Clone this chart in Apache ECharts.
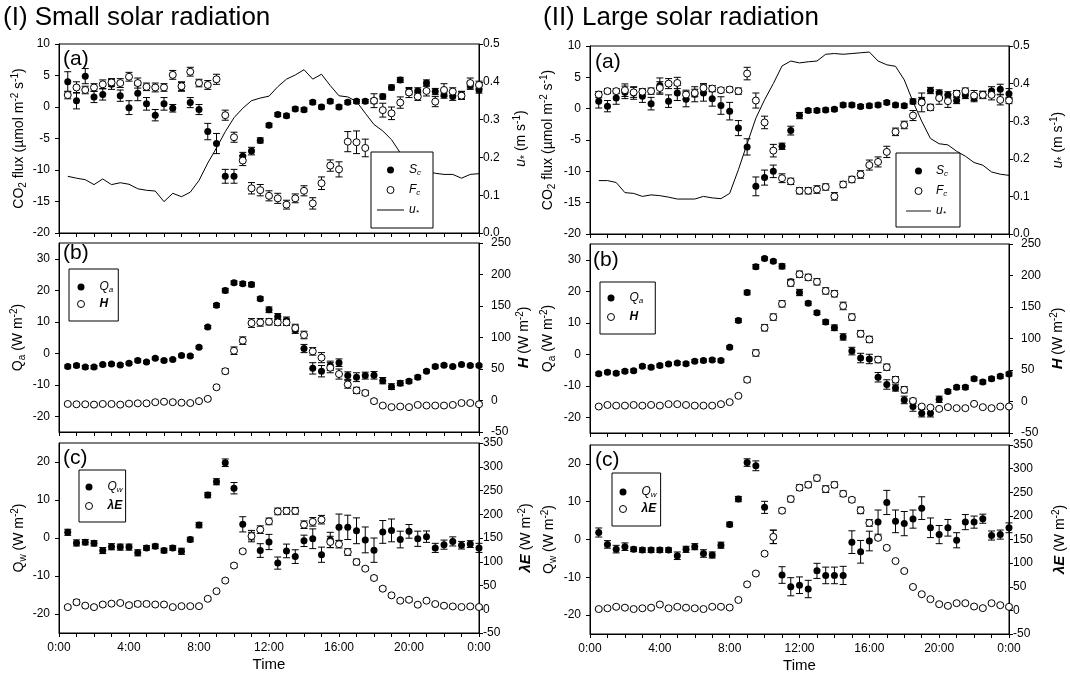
<!DOCTYPE html>
<html><head><meta charset="utf-8">
<script src="https://cdn.jsdelivr.net/npm/echarts@6/dist/echarts.min.js"></script>
<style>html,body{margin:0;padding:0;background:#fff}#c{width:1070px;height:677px}</style>
</head><body><div id="c"></div><script>
// ---- data (half-hourly, 0:30 ... 24:00) ----
const HOURS = [0.5,1,1.5,2,2.5,3,3.5,4,4.5,5,5.5,6,6.5,7,7.5,8,8.5,9,9.5,10,10.5,11,11.5,12,12.5,13,13.5,14,14.5,15,15.5,16,16.5,17,17.5,18,18.5,19,19.5,20,20.5,21,21.5,22,22.5,23,23.5,24];
const TIME_TICKS = ['0:00','4:00','8:00','12:00','16:00','20:00','0:00'];

// (I) small solar radiation
const L_SC = [4.0,1.0,4.9,1.6,2.0,3.6,1.8,-0.1, 2.2,0.5,-1.3,0.5,-0.2,3.2,0.7,-0.4, -3.9,-5.8,-11.0,-11.0,-7.8,-7.0,-5.3,-2.9, -1.2,-1.4,-0.3,-0.45,0.75,0.0,0.9,0.0, 0.75,0.9,0.9,0.95,1.65,3.1,4.3,2.45, 2.55,3.8,2.45,1.9,1.65,1.9,3.4,2.7];
const L_SC_ERR = [1.6,1.3,1.2,0.9,0.9,0.8,0.9,1.1, 1.2,1.0,0.9,1.0,0.6,0.7,0.8,0.8, 1.3,1.6,1.1,1.1,0.6,0.6,0.4,0.3, 0.3,0.3,0.3,0.3,0.3,0.3,0.3,0.3, 0.3,0.3,0.3,0.4,0.4,0.4,0.4,0.5, 0.5,0.5,0.5,0.5,0.6,0.6,0.6,0.5];
const L_FC = [1.9,3.1,2.7,3.1,3.6,3.9,3.8,4.8, 3.8,3.2,3.1,3.1,5.1,3.3,5.6,3.8, 3.5,4.4,-1.3,-4.8,-8.5,-12.9,-13.2,-14.1, -14.5,-15.5,-14.5,-13.3,-15.3,-12.1,-9.3,-9.9, -5.5,-5.6,-6.5,1.0,-0.5,-1.0,0.7,2.3, 1.65,2.55,0.85,2.7,2.45,1.8,3.8,3.5];
const L_FC_ERR = [0.6,0.9,0.6,0.6,0.7,0.6,0.7,0.7, 0.8,0.6,0.7,0.6,0.7,0.7,0.7,0.6, 0.7,0.8,0.8,0.8,0.8,0.9,0.9,0.8, 0.8,0.7,0.7,0.8,0.9,1.0,0.9,1.2, 1.6,1.8,1.4,1.1,1.1,1.0,0.9,0.8, 0.6,0.8,0.8,1.0,0.6,0.6,0.8,0.6];
const L_US = [0.150,0.145,0.141,0.128,0.143,0.128,0.133,0.129, 0.117,0.113,0.111,0.083,0.105,0.096,0.108,0.139, 0.185,0.225,0.268,0.305,0.330,0.350,0.357,0.362, 0.387,0.407,0.418,0.432,0.407,0.420,0.390,0.363, 0.360,0.348,0.317,0.287,0.270,0.247,0.212,0.190, 0.172,0.163,0.158,0.155,0.155,0.145,0.155,0.157];
const L_QA = [-4.2,-3.9,-4.4,-4.4,-3.6,-3.4,-3.7,-3.2, -2.3,-2.8,-1.6,-2.3,-2.0,-0.7,-0.9,1.9, 8.3,15.2,19.9,22.4,22.1,21.8,17.3,13.8, 11.7,10.4,7.5,1.5,-4.8,-5.7,-4.0,-3.0, -7.1,-7.6,-7.1,-7.0,-8.7,-10.6,-9.5,-8.9, -7.6,-5.7,-4.2,-3.8,-4.2,-3.6,-3.9,-3.9];
const L_QA_ERR = [0.5,0.5,0.5,0.5,0.4,0.4,0.4,0.4, 0.5,0.4,0.4,0.4,0.4,0.4,0.4,0.4, 0.5,0.6,0.7,0.6,0.6,0.7,0.6,0.9, 0.9,1.1,1.2,1.3,1.8,1.8,1.5,1.2, 1.2,1.4,1.1,1.2,1.0,0.9,0.8,0.6, 0.6,0.5,0.5,0.4,0.4,0.4,0.4,0.4];
const L_H = [-5.5,-6,-6,-6.5,-5.5,-5.5,-6.5,-5, -4.5,-4.5,-2.7,-2,-2.7,-3.5,-4,-1, 2.6,21,46.5,79,95,123,124,125, 124,124,115,104,78,68,52,42, 25.5,16,12,-1,-8,-10.5,-9.5,-10.5, -7,-8,-8,-8,-7,-4,-4,-6];
const L_H_ERR = [2,2,2,2,2,2,2,2, 2,2,2,2,2,2,2,2, 2,3,4,6,6,7,6,5, 5,5,6,6,6,8,8,8, 6,5,4,3,2,2,2,2, 2,2,2,2,2,2,2,2];
const L_QW = [1.5,-1.3,-1.1,-1.4,-3.3,-2.3,-2.4,-2.4, -3.9,-2.6,-2.2,-3.3,-2.6,-3.5,-0.4,3.4, 11.3,14.8,19.8,13.1,3.6,0.5,-3.3,-1.05, -6.6,-3.4,-4.9,-0.75,-0.2,-4.4,-0.5,2.8, 2.8,1.9,-0.5,-3.2,1.6,2.0,-0.4,1.75, -0.2,0.35,-2.6,-1.75,-0.9,-1.9,-1.6,-2.6];
const L_QW_ERR = [0.8,0.8,0.7,0.7,0.8,0.8,0.8,0.8, 0.8,0.6,0.6,0.6,0.6,0.8,0.6,0.7, 0.7,0.8,1.0,1.5,2.0,1.5,1.8,2.0, 1.6,1.8,1.8,1.5,2.6,2.0,2.0,3.5, 3.2,3.4,3.4,3.2,3.0,3.0,2.2,1.8, 2.0,1.5,1.2,1.2,1.2,1.0,0.9,1.2];
const L_LE = [4.5,14.8,7.6,4.5,10,11.8,13.2,8.6, 11.2,11.2,10,10,4.5,6.5,6.5,6.5, 22,38,60.4,92,122,154,167.6,185, 206,207,207,178,184,188.6,141.6,137, 120.5,99.5,85.4,65.8,43.3,29.3,18,20, 9.6,18,11,7.5,6,4.7,6,4.7];
const L_LE_ERR = [3,5,3,3,4,4,3,4, 5,4,3,3,3,3,3,3, 3,3,3,4,4,8,8,7, 7,7,7,8,9,9,12,8, 7,6,4,4,4,4,3,4, 3,3,3,3,3,3,3,3];

// (II) large solar radiation
const R_SC = [1.2,0.4,1.7,2.6,2.5,2.0,0.8,3.7, 1.2,2.5,1.5,2.3,2.5,1.6,0.5,-0.4, -3.1,-6.1,-12.4,-11.0,-10.0,-6.0,-3.5,-1.1, -0.3,-0.3,-0.2,-0.1,0.6,0.6,0.35,0.45, 0.6,1.0,0.57,0.45,1.16,1.3,2.9,2.5, 2.2,1.3,2.1,1.7,2.2,2.8,3.1,2.4];
const R_SC_ERR = [1.1,0.9,1.0,1.0,1.0,1.0,1.0,1.2, 1.0,1.2,1.2,1.2,1.3,1.2,1.4,1.4, 1.2,1.3,1.5,1.2,1.0,0.5,0.7,0.5, 0.3,0.3,0.3,0.3,0.3,0.3,0.3,0.3, 0.3,0.3,0.3,0.3,0.4,0.5,0.5,0.5, 0.5,0.5,0.5,0.6,0.6,0.7,0.8,0.8];
const R_FC = [2.25,2.8,2.8,2.95,2.6,2.7,2.8,3.3, 4.0,4.1,2.25,2.5,3.3,3.2,2.95,3.05, 2.8,5.6,1.3,-2.2,-6.7,-11.1,-11.6,-13.1, -13.1,-12.9,-12.5,-14.0,-12.1,-11.3,-10.5,-9.0, -8.5,-6.9,-3.7,-2.6,-1.1,1.0,0.2,1.7, 1.2,2.4,2.8,2.1,2.2,2.2,1.4,1.3];
const R_FC_ERR = [0.5,0.4,0.4,1.0,0.8,0.5,0.5,1.0, 0.8,0.9,0.7,0.6,0.7,0.5,0.4,0.4, 0.5,1.0,1.2,1.0,1.0,0.7,0.5,0.5, 0.5,0.6,0.5,0.6,0.5,0.5,0.6,0.8, 0.8,0.9,0.6,0.6,0.8,1.5,0.5,1.0, 1.0,0.5,0.5,0.8,0.5,0.8,0.8,0.5];
const R_US = [0.142,0.142,0.137,0.110,0.108,0.100,0.104,0.102, 0.098,0.093,0.093,0.093,0.100,0.096,0.094,0.108, 0.171,0.240,0.308,0.357,0.400,0.447,0.460,0.455, 0.458,0.460,0.478,0.480,0.478,0.480,0.482,0.484, 0.460,0.450,0.446,0.410,0.352,0.300,0.254,0.240, 0.237,0.220,0.207,0.190,0.183,0.165,0.159,0.156];
const R_QA = [-6.2,-5.7,-6.0,-5.4,-5.2,-3.8,-4.1,-3.6, -3.1,-2.8,-3.0,-2.2,-2.0,-1.8,-2.0,2.2, 10.7,19.6,27.8,30.4,29.5,27.9,23.0,19.6, 16.2,13.2,10.2,8.4,5.5,1.0,-1.2,-1.5, -7.3,-9.6,-10.7,-14.5,-16.6,-18.7,-18.7,-14.3, -11.8,-10.5,-10.5,-7.8,-8.8,-7.8,-7.0,-6.3];
const R_QA_ERR = [0.5,0.5,0.5,0.5,0.5,0.5,0.5,0.5, 0.5,0.5,0.5,0.5,0.5,0.5,0.5,0.5, 0.6,0.7,0.7,0.5,0.5,0.8,0.8,1.0, 0.6,0.6,0.7,0.9,1.0,1.2,1.5,1.5, 1.5,1.5,1.0,1.2,1.5,1.2,1.2,1.0, 0.6,0.6,0.6,0.6,0.6,0.6,0.6,0.6];
const R_H = [-8,-5.5,-6.5,-6.5,-5.5,-6.5,-5.5,-6.5, -4.2,-4.2,-5.5,-6.5,-6.5,-6.5,-4.2,-1, 9,34.5,77,117,134,155,188,202, 197,190,175.5,171,151.7,134,107.5,98.5, 66.5,54.4,34.6,18.6,1,-8,-9.6,-11.7, -9,-10.6,-10.6,-3.7,-9,-10.6,-8,-8];
const R_H_ERR = [2,2,2,2,2,2,2,2, 2,2,2,2,2,2,2,2, 2,4,5,5,5,5,5,5, 5,5,5,5,6,5,5,5, 5,5,5,5,4,3,2,2, 2,2,2,2,2,2,2,2];
const R_QW = [1.85,-1.3,-2.55,-1.9,-2.6,-2.8,-2.8,-2.8, -2.8,-4.3,-2.6,-1.9,-3.7,-4.1,-1.5,4.0, 10.7,20.35,19.5,8.5,0.7,-9.4,-12.5,-12.1, -13.1,-8.3,-9.5,-9.5,-9.5,-0.7,-3.25,-0.4, 4.6,9.8,4.8,4.2,5.4,8.3,3.1,1.3, 3.1,-0.2,4.6,4.6,5.5,1.05,1.3,3.1];
const R_QW_ERR = [1.2,1.0,1.0,1.0,0.6,0.6,0.6,0.6, 0.6,1.0,0.8,0.8,1.0,0.8,0.8,0.6, 0.7,1.0,1.3,1.6,1.8,2.2,2.4,2.2, 2.3,2.0,2.2,2.2,2.4,3.0,3.0,2.6, 3.2,3.2,3.0,3.2,2.4,3.0,2.6,2.4, 2.2,2.0,2.0,1.6,1.2,1.2,1.2,1.3];
const R_LE = [2.8,4.4,7.6,5.7,2.8,4.4,5.7,12.4, 4.4,7.6,5.7,4.4,2.8,7.6,7.6,6, 22,55,78,120,155.6,211,235.6,259.6, 265.8,280,256.7,265.8,246.8,234,211.7,185, 153.5,132.4,104.4,83.3,49.6,34.2,23.7,13.1, 9.6,15.2,15.2,8.2,4.7,15.2,11,7.5];
const R_LE_ERR = [3,3,3,3,3,3,3,3, 3,3,3,3,3,3,3,3, 3,3,3,4,14,5,6,6, 6,6,7,6,6,5,7,7, 4,4,3,3,3,3,3,3, 3,3,3,3,3,3,3,3];

// ---- styling / layout ----
const FONT = "'Liberation Sans', Arial, sans-serif";
const GRIDS = [
  {left:59, top:44, width:420, height:189},
  {left:59, top:243, width:420, height:189},
  {left:59, top:443, width:420, height:190},
  {left:590, top:46, width:419, height:188},
  {left:590, top:244, width:419, height:189},
  {left:590, top:445, width:419, height:189}
];
const NAME_RICH = {
  sub: {fontSize: 10, verticalAlign: 'bottom', fontFamily: FONT, lineHeight: 18},
  sup: {fontSize: 10, verticalAlign: 'top', fontFamily: FONT, lineHeight: 18},
  i: {fontStyle: 'italic', fontSize: 14, fontFamily: FONT},
  b: {fontWeight: 'bold', fontStyle: 'italic', fontSize: 15, fontFamily: FONT}
};
const LEG_RICH = {
  i: {fontStyle: 'italic', fontSize: 12, fontFamily: FONT, lineHeight: 14},
  s: {fontStyle: 'italic', fontSize: 8, fontFamily: FONT, verticalAlign: 'bottom', lineHeight: 14},
  bi: {fontStyle: 'italic', fontWeight: 'bold', fontSize: 12, fontFamily: FONT, lineHeight: 14}
};
const LEG_LABEL = {
  L_Sc: '{i|S}{s|c}', L_Fc: '{i|F}{s|c}', L_us: '{i|u}{s|*}',
  R_Sc: '{i|S}{s|c}', R_Fc: '{i|F}{s|c}', R_us: '{i|u}{s|*}',
  L_Qa: '{i|Q}{s|a}', L_H: '{bi|H}', L_Qw: '{i|Q}{s|w}', L_LE: '{bi|λE}',
  R_Qa: '{i|Q}{s|a}', R_H: '{bi|H}', R_Qw: '{i|Q}{s|w}', R_LE: '{bi|λE}'
};

function xAx(gi, bottom) {
  return {
    type: 'value', gridIndex: gi, min: 0, max: 24, interval: 4,
    axisLine: {show: true, onZero: false, lineStyle: {color: '#000', width: 1}},
    axisTick: {show: true, length: 4, lineStyle: {color: '#000'}},
    minorTick: {show: true, splitNumber: 4, length: 4, lineStyle: {color: '#000'}},
    splitLine: {show: false}, minorSplitLine: {show: false},
    axisLabel: {show: bottom, color: '#000', fontSize: 12, fontFamily: FONT, margin: 9,
      formatter: v => TIME_TICKS[Math.round(v / 4)]},
    name: bottom ? 'Time' : '', nameLocation: 'middle', nameGap: 24,
    nameTextStyle: {color: '#000', fontSize: 15, fontFamily: FONT}
  };
}
function yAx(gi, pos, o) {
  return {
    type: 'value', gridIndex: gi, position: pos, min: o.min, max: o.max, interval: o.interval,
    axisLine: {show: true, onZero: false, lineStyle: {color: '#000', width: 1}},
    axisTick: {show: true, length: 4, inside: false, lineStyle: {color: '#000'}, customValues: o.custom},
    axisLabel: {show: true, color: '#000', fontSize: 12, fontFamily: FONT, margin: o.margin,
      formatter: o.fmt, customValues: o.custom, showMinLabel: true, showMaxLabel: true},
    splitLine: {show: false},
    name: o.name, nameLocation: 'middle', nameGap: o.gap, nameRotate: 90,
    nameTextStyle: {color: '#000', fontSize: 14, fontFamily: FONT, lineHeight: 18, rich: NAME_RICH}
  };
}

const CO2_NAME = 'CO{sub|2} flux (µmol m{sup|-2} s{sup|-1})';
const US_NAME = '{i|u}{sub|*} (m s{sup|-1})';
const QA_NAME = 'Q{sub|a} (W m{sup|-2})';
const H_NAME = '{b|H} (W m{sup|-2})';
const QW_NAME = 'Q{sub|w} (W m{sup|-2})';
const LE_NAME = '{b|λE} (W m{sup|-2})';

const yAxes = [];
[0, 3].forEach((base, col) => {
  const R = col === 1;
  yAxes.push(yAx(base, 'left', {min: -20, max: 10, interval: 5, margin: 9, name: CO2_NAME, gap: R ? 33 : 31}));
  yAxes.push(yAx(base, 'right', {min: 0, max: 0.5, interval: 0.1, margin: 4, fmt: v => v.toFixed(1), name: US_NAME, gap: R ? 40 : 33}));
  yAxes.push(yAx(base + 1, 'left', {min: -25, max: 35, custom: [-20, -10, 0, 10, 20, 30], margin: 9, name: QA_NAME, gap: R ? 33 : 32}));
  yAxes.push(yAx(base + 1, 'right', {min: -50, max: 250, interval: 50, margin: 12, name: H_NAME, gap: R ? 40 : 35}));
  yAxes.push(yAx(base + 2, 'left', {min: -25, max: 25, custom: [-20, -10, 0, 10, 20], margin: 9, name: QW_NAME, gap: R ? 32 : 31}));
  yAxes.push(yAx(base + 2, 'right', {min: -50, max: 350, interval: 50, margin: 4, name: LE_NAME, gap: R ? 42 : 38}));
});
// yAxes index: grid g -> left 2g, right 2g+1  (grids: 0,1,2 left column; 3,4,5 right column)

function errRender(params, api) {
  const x = api.value(0), y = api.value(1), e = api.value(2);
  const hi = api.coord([x, y + e]), lo = api.coord([x, y - e]);
  const cw = 3.5;
  const st = {stroke: '#000', lineWidth: 1};
  return {type: 'group', children: [
    {type: 'line', shape: {x1: hi[0], y1: hi[1], x2: lo[0], y2: lo[1]}, style: st},
    {type: 'line', shape: {x1: hi[0] - cw, y1: hi[1], x2: hi[0] + cw, y2: hi[1]}, style: st},
    {type: 'line', shape: {x1: lo[0] - cw, y1: lo[1], x2: lo[0] + cw, y2: lo[1]}, style: st}
  ]};
}
function errSeries(g, right, vals, errs, z) {
  return {type: 'custom', xAxisIndex: g, yAxisIndex: 2 * g + (right ? 1 : 0), renderItem: errRender,
    data: HOURS.map((h, i) => [h, vals[i], errs[i]]), encode: {x: 0, y: 1}, z: z, silent: true, clip: false};
}
function dotSeries(name, g, right, vals, open, z) {
  return {type: 'scatter', name: name, xAxisIndex: g, yAxisIndex: 2 * g + (right ? 1 : 0),
    data: HOURS.map((h, i) => [h, vals[i]]), symbol: 'circle', symbolSize: 7,
    itemStyle: open ? {color: '#fff', borderColor: '#000', borderWidth: 1, opacity: 1} : {color: '#000', opacity: 1},
    z: z, silent: true};
}
function lineSeries(name, g, vals) {
  return {type: 'line', name: name, xAxisIndex: g, yAxisIndex: 2 * g + 1,
    data: HOURS.map((h, i) => [h, vals[i]]), symbol: 'none', showSymbol: false,
    lineStyle: {color: '#000', width: 1}, itemStyle: {color: '#000'}, z: 1, silent: true};
}

const series = [];
function panel(g, filledName, fVals, fErr, fRight, openName, oVals, oErr, oRight) {
  series.push(errSeries(g, fRight, fVals, fErr, 2));
  series.push(dotSeries(filledName, g, fRight, fVals, false, 3));
  series.push(errSeries(g, oRight, oVals, oErr, 4));
  series.push(dotSeries(openName, g, oRight, oVals, true, 5));
}
panel(0, 'L_Sc', L_SC, L_SC_ERR, false, 'L_Fc', L_FC, L_FC_ERR, false);
series.push(lineSeries('L_us', 0, L_US));
panel(1, 'L_Qa', L_QA, L_QA_ERR, false, 'L_H', L_H, L_H_ERR, true);
panel(2, 'L_Qw', L_QW, L_QW_ERR, false, 'L_LE', L_LE, L_LE_ERR, true);
panel(3, 'R_Sc', R_SC, R_SC_ERR, false, 'R_Fc', R_FC, R_FC_ERR, false);
series.push(lineSeries('R_us', 3, R_US));
panel(4, 'R_Qa', R_QA, R_QA_ERR, false, 'R_H', R_H, R_H_ERR, true);
panel(5, 'R_Qw', R_QW, R_QW_ERR, false, 'R_LE', R_LE, R_LE_ERR, true);

const FILLED = {icon: 'circle', itemStyle: {color: '#000', borderWidth: 0}};
const OPEN = {icon: 'circle', itemStyle: {color: '#fff', borderColor: '#000', borderWidth: 1}};
const LINE = {icon: 'path://M0,0H27V1H0Z', itemStyle: {color: '#000', borderWidth: 0}};
function legend(names, left, top, pad, gap, iw) {
  return {
    show: true, orient: 'vertical', left: left, top: top, selectedMode: false,
    backgroundColor: '#fff', borderColor: '#000', borderWidth: 1, borderRadius: 0,
    padding: pad, itemGap: gap, itemWidth: iw, itemHeight: 7,
    data: names, formatter: n => LEG_LABEL[n],
    textStyle: {color: '#000', fontSize: 12, fontFamily: FONT, lineHeight: 14, rich: LEG_RICH, padding: [0, 0, 0, 0]},
    z: 10
  };
}
const legends = [
  legend([Object.assign({name: 'L_Sc'}, FILLED), Object.assign({name: 'L_Fc'}, OPEN), Object.assign({name: 'L_us'}, LINE)], 371, 152, [11, 12, 11, 6], 6, 27),
  legend([Object.assign({name: 'L_Qa'}, FILLED), Object.assign({name: 'L_H'}, OPEN)], 69, 269, [11, 5, 10, 8], 3, 27),
  legend([Object.assign({name: 'L_Qw'}, FILLED), Object.assign({name: 'L_LE'}, OPEN)], 79, 470, [10, 3, 9, 6], 5, 27),
  legend([Object.assign({name: 'R_Sc'}, FILLED), Object.assign({name: 'R_Fc'}, OPEN), Object.assign({name: 'R_us'}, LINE)], 896, 153, [11, 12, 9, 10], 6, 25),
  legend([Object.assign({name: 'R_Qa'}, FILLED), Object.assign({name: 'R_H'}, OPEN)], 600, 282, [9, 12, 10, 7], 5, 27),
  legend([Object.assign({name: 'R_Qw'}, FILLED), Object.assign({name: 'R_LE'}, OPEN)], 612, 473, [12, 4, 10, 7], 3, 27)
];

function txt(s, left, top, size, scaleX) {
  return {type: 'text', left: left, top: top, scaleX: scaleX || 1,
    style: {text: s, fill: '#000', fontSize: size, fontFamily: FONT}};
}
const graphics = [
  txt('(I) Small solar radiation', 3, 5, 26),
  txt('(II) Large solar radiation', 543, 5, 26),
  txt('(a)', 63, 49, 21), txt('(b)', 63, 243, 21), txt('(c)', 63, 448, 21),
  txt('(a)', 595, 52, 21), txt('(b)', 593, 250, 21), txt('(c)', 595, 450, 21)
];

const option = {
  animation: false,
  backgroundColor: '#fff',
  textStyle: {fontFamily: FONT},
  grid: GRIDS.map(g => Object.assign({show: true, borderColor: '#000', borderWidth: 1, backgroundColor: 'transparent', containLabel: false}, g)),
  xAxis: GRIDS.map((g, i) => xAx(i, i === 2 || i === 5)),
  yAxis: yAxes,
  legend: legends,
  graphic: graphics,
  series: series
};
const chart = echarts.init(document.getElementById('c'), null, {renderer: 'canvas'});
chart.setOption(option);
</script></body></html>
